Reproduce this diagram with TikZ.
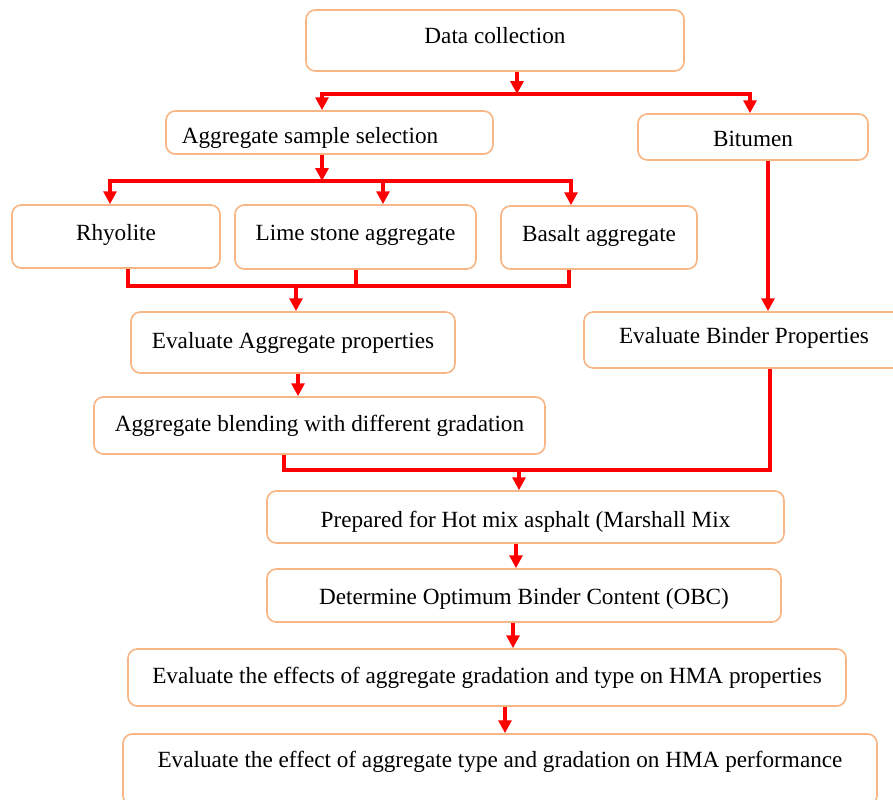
\documentclass[tikz,border=0pt]{standalone}
\usepackage{fontspec}
\setmainfont{Liberation Serif}
\usetikzlibrary{arrows.meta}
\definecolor{boxorange}{RGB}{248,182,134}
\definecolor{linkred}{RGB}{255,0,0}

\begin{document}
\begin{tikzpicture}[x=0.03cm, y=-0.03cm,
	box/.style={draw=boxorange, line width=1.4pt, rounded corners=8pt, inner sep=0pt, font=\fontsize{19.8}{22}\selectfont},
	link/.style={draw=linkred, line width=2.8pt},
	tip/.style={link, -{Triangle[length=11pt, width=11pt]}},
	tips/.style={link, {Triangle[length=11pt, width=11pt]}-{Triangle[length=11pt, width=11pt]}}]

			\useasboundingbox (0,0) rectangle (893,799);

			\node[box, minimum width=11.34cm, text height=0.99cm, text depth=0.84cm] (data) at (495,40.5) {Data collection};
			\node[box, minimum width=9.81cm, text height=0.96cm, text depth=0.33cm] (select) at (329.5,132.5) {Aggregate sample selection\hspace*{1.17cm}};
			\node[box, minimum width=6.9cm, text height=0.96cm, text depth=0.42cm] (bitumen) at (753,137) {Bitumen};
			\node[box, minimum width=6.24cm, text height=1.05cm, text depth=0.84cm] (rhyolite) at (116,236.5) {Rhyolite};
			\node[box, minimum width=7.23cm, text height=1.05cm, text depth=0.87cm] (lime) at (355.5,237) {Lime stone aggregate};
			\node[box, minimum width=5.88cm, text height=1.05cm, text depth=0.84cm] (basalt) at (599,237.5) {Basalt aggregate};
			\node[box, minimum width=9.72cm, text height=1.08cm, text depth=0.75cm] (aggprop) at (293,342.5) {Evaluate Aggregate properties};
			\node[box, minimum width=9.6cm, text height=0.93cm, text depth=0.75cm] (binprop) at (744,340) {Evaluate Binder Properties};
			\node[box, minimum width=13.53cm, text height=1.02cm, text depth=0.69cm] (blend) at (319.5,425.5) {Aggregate blending with different gradation};
			\node[box, minimum width=15.51cm, text height=1.08cm, text depth=0.48cm] (hma) at (525.5,517) {Prepared for Hot mix asphalt (Marshall Mix};
			\node[box, minimum width=15.42cm, text height=1.05cm, text depth=0.54cm] (obc) at (524,595.5) {Determine Optimum Binder Content (OBC)};
			\node[box, minimum width=21.54cm, text height=1.02cm, text depth=0.69cm] (effects) at (487,677.5) {Evaluate the effects of aggregate gradation and type on HMA properties};
			\node[box, minimum width=22.62cm, text height=0.99cm, text depth=1.14cm] (perform) at (500,769.5) {Evaluate the effect of aggregate type and gradation on HMA performance};

			\coordinate (split1) at (517,94);
			\coordinate (split1l) at (322,94);
			\coordinate (split1r) at (750,94);
			\coordinate (split2) at (322,181);
			\coordinate (split2l) at (110,181);
			\coordinate (split2m) at (383,181);
			\coordinate (split2r) at (571,181);
			\coordinate (join1) at (296,286);
			\coordinate (join1l) at (128,286);
			\coordinate (join1m) at (356,286);
			\coordinate (join1r) at (569,286);
			\coordinate (down1) at (768,200);
			\coordinate (down2) at (298,385);
			\coordinate (join2) at (519,470);
			\coordinate (join2l) at (284,470);
			\coordinate (join2r) at (770,470);
			\coordinate (down3) at (516,555);
			\coordinate (down4) at (513,635);
			\coordinate (down5) at (505,720);

			\draw[tip] (data.south -| split1) -- (split1);
			\draw[tips] (select.north -| split1l) -- (split1l) -- (split1r) -- (bitumen.north -| split1r);

			\draw[tip] (select.south -| split2) -- (split2);
			\draw[tips] (rhyolite.north -| split2l) -- (split2l) -- (split2r) -- (basalt.north -| split2r);
			\draw[tip] (split2m) -- (lime.north -| split2m);

			\draw[link] (rhyolite.south -| join1l) -- (join1l) -- (join1r) -- (basalt.south -| join1r);
			\draw[link] (lime.south -| join1m) -- (join1m);
			\draw[tip] (join1) -- (aggprop.north -| join1);

			\draw[tip] (bitumen.south -| down1) -- (binprop.north -| down1);
			\draw[tip] (aggprop.south -| down2) -- (blend.north -| down2);

			\draw[link] (blend.south -| join2l) -- (join2l) -- (join2r) -- (binprop.south -| join2r);
			\draw[tip] (join2) -- (hma.north -| join2);

			\draw[tip] (hma.south -| down3) -- (obc.north -| down3);
			\draw[tip] (obc.south -| down4) -- (effects.north -| down4);
			\draw[tip] (effects.south -| down5) -- (perform.north -| down5);

\end{tikzpicture}
\end{document}
